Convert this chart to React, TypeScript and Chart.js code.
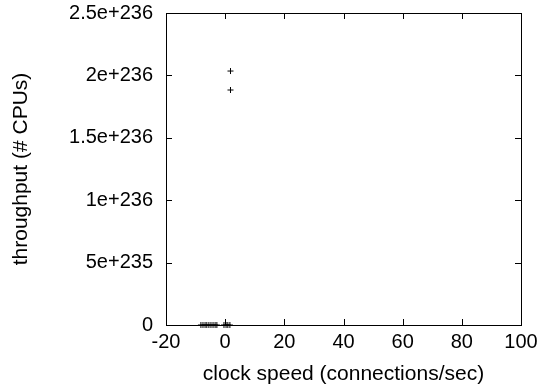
import React, { useEffect, useRef } from "react";
import { Chart, registerables } from "chart.js";

Chart.register(...registerables);

const xTicks = [-20, 0, 20, 40, 60, 80, 100];
const yTicks = [0, 5e235, 1e236, 1.5e236, 2e236, 2.5e236];
const yTickLabels = ["0", "5e+235", "1e+236", "1.5e+236", "2e+236", "2.5e+236"];

const pointsX = [1.8, 1.8, -8.2, -7.5, -6.8, -6.2, -5.5, -4.8, -4.1, -3.4, -2.8, -0.4, 0.3, 0.9, 1.6];
const pointsY = [2.035e236, 1.883e236, 0, 0, 0, 0, 0, 0, 0, 0, 0, 0, 0, 0, 0];

const xTitle = "clock speed (connections/sec)";
const yTitle = "throughput (# CPUs)";

const FONT = "'Liberation Sans', Arial, Helvetica, sans-serif";

const frame = {
  id: "gnuplotFrame",
  afterDraw(chart: any) {
    const { ctx, chartArea: a } = chart;
    const xs = chart.scales.x;
    const ys = chart.scales.y;
    const len = 6;
    ctx.save();
    ctx.strokeStyle = "#000";
    ctx.lineWidth = 1;
    ctx.beginPath();
    for (const t of xs.ticks) {
      const px = Math.round(xs.getPixelForValue(t.value)) + 0.5;
      ctx.moveTo(px, a.bottom);
      ctx.lineTo(px, a.bottom - len);
      ctx.moveTo(px, a.top);
      ctx.lineTo(px, a.top + len);
    }
    for (const t of ys.ticks) {
      const py = Math.round(ys.getPixelForValue(t.value)) + 0.5;
      ctx.moveTo(a.left, py);
      ctx.lineTo(a.left + len, py);
      ctx.moveTo(a.right, py);
      ctx.lineTo(a.right - len, py);
    }
    ctx.stroke();
    ctx.strokeRect(Math.round(a.left) + 0.5, Math.round(a.top) + 0.5, Math.round(a.right - a.left), Math.round(a.bottom - a.top));
    ctx.restore();
  },
};

export default function App() {
  const ref = useRef<HTMLCanvasElement>(null);
  useEffect(() => {
    document.body.style.margin = "0";
    const data = pointsX.map((x, i) => ({ x, y: pointsY[i] }));
    const chart = new Chart(ref.current!, {
      type: "scatter",
      data: {
        datasets: [
          {
            data,
            pointStyle: "cross",
            pointRadius: 3,
            pointBorderWidth: 1,
            borderColor: "#000",
            backgroundColor: "#000",
            clip: false as any,
          },
        ],
      },
      plugins: [frame],
      options: {
        animation: false,
        responsive: false,
        devicePixelRatio: 1,
        layout: { padding: { top: 13, right: 21, left: 0, bottom: 0 } },
        plugins: { legend: { display: false }, tooltip: { enabled: false } },
        scales: {
          x: {
            type: "linear",
            min: -20,
            max: 100,
            afterBuildTicks: (s: any) => {
              s.ticks = xTicks.map((v) => ({ value: v }));
            },
            afterFit: (s: any) => {
              s.height = 64;
              s.paddingLeft = 0;
              s.paddingRight = 0;
            },
            grid: { display: false, drawTicks: false },
            border: { display: false },
            ticks: {
              color: "#000",
              padding: 5,
              maxRotation: 0,
              autoSkip: false,
              font: { family: FONT, size: 20 },
              callback: (v: any) => String(v),
            },
            title: {
              display: true,
              text: xTitle,
              color: "#000",
              font: { family: FONT, size: 21 },
              padding: { top: 0, bottom: 2 },
            },
          },
          y: {
            type: "linear",
            min: 0,
            max: 2.5e236,
            afterBuildTicks: (s: any) => {
              s.ticks = yTicks.map((v) => ({ value: v }));
            },
            afterFit: (s: any) => {
              s.width = 166;
              s.paddingTop = 0;
              s.paddingBottom = 0;
            },
            grid: { display: false, drawTicks: false },
            border: { display: false },
            ticks: {
              color: "#000",
              padding: 13,
              autoSkip: false,
              font: { family: FONT, size: 20 },
              callback: (_v: any, i: number) => yTickLabels[i],
            },
            title: {
              display: true,
              text: yTitle,
              color: "#000",
              font: { family: FONT, size: 21 },
              padding: { top: 9, bottom: 0 },
            },
          },
        },
      },
    });
    return () => chart.destroy();
  }, []);
  return <canvas ref={ref} width={542} height={389} style={{ display: "block" }} />;
}
